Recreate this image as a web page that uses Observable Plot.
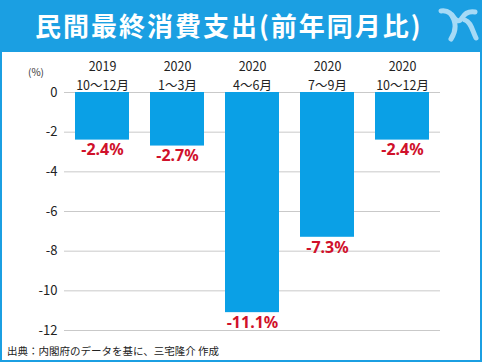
<!DOCTYPE html>
<html><head><meta charset="utf-8">
<script src="https://cdn.jsdelivr.net/npm/d3@7"></script>
<script src="https://cdn.jsdelivr.net/npm/@observablehq/plot@0.6"></script>
<style>
body{margin:0;background:#fff;}
#c{position:relative;width:482px;height:362px;overflow:hidden;font-family:"Noto Sans CJK JP","Noto Sans",sans-serif;background:#fff;}
#hdr{position:absolute;left:0;top:0;width:482px;height:52px;background:#1b9fe2;}
#title{position:absolute;left:35px;top:12px;color:#fff;font-weight:bold;font-size:26px;letter-spacing:2px;line-height:1;white-space:nowrap;}
#logo{position:absolute;left:438px;top:6px;}
#chart{position:absolute;left:0;top:52px;}
#unit{position:absolute;left:28px;top:67px;font-size:10px;line-height:1;color:#333;}
#cap{position:absolute;left:7px;top:346px;font-size:10.5px;line-height:1;color:#222;white-space:nowrap;}
#frame{position:absolute;left:0;top:0;width:482px;height:362px;box-sizing:border-box;border:2px solid #1b9fe2;pointer-events:none;}
</style>
</head><body>
<div id="c">
  <div id="hdr"></div>
  <div id="title">民間最終消費支出(前年同月比)</div>
  <svg id="logo" width="42" height="36" viewBox="0 0 42 36">
    <path d="M3 5 C10 4 14 8 16 14 C18 20 17 27 13 33" fill="none" stroke="#a6daf6" stroke-width="5" stroke-linecap="round"/>
    <path d="M14 9 C18 15 21 17 24 12 C27 7 31 5 37 6" fill="none" stroke="#a6daf6" stroke-width="5" stroke-linecap="round"/>
    <path d="M27 14 C33 16 34 24 38 32" fill="none" stroke="#a6daf6" stroke-width="5" stroke-linecap="round"/>
  </svg>
  <div id="chart"></div>
  <div id="unit">(%)</div>
  <div id="cap">出典：内閣府のデータを基に、三宅隆介 作成</div>
  <div id="frame"></div>
</div>
<script>
const years = ["2019", "2020", "2020", "2020", "2020"];
const periods = ["10〜12月", "1〜3月", "4〜6月", "7〜9月", "10〜12月"];
const values = [-2.4, -2.7, -11.1, -7.3, -2.4];
const yTicks = [0, -2, -4, -6, -8, -10, -12];

const data = years.map((y, i) => ({key: i, year: y, period: periods[i], value: values[i]}));
const blue = "#0aa0e6";
const red = "#d0112b";

const chart = Plot.plot({
  width: 482,
  height: 288,
  marginTop: 40,
  marginBottom: 10,
  marginLeft: 64,
  marginRight: 42,
  style: {fontFamily: '"Noto Sans CJK JP","Noto Sans",sans-serif', background: "transparent"},
  x: {domain: data.map(d => d.key), paddingInner: 0.28, paddingOuter: 0.14, axis: null},
  y: {domain: [-12, 0], axis: null},
  marks: [
    Plot.gridY(yTicks, {stroke: "#c9c9c9", strokeOpacity: 1}),
    Plot.barY(data, {x: "key", y: "value", fill: blue}),
    Plot.axisY(yTicks, {tickSize: 0, tickPadding: 7, fontSize: 13, fill: "#222", label: null,
      tickFormat: d => d === 0 ? "0" : "-" + Math.abs(d)}),
    Plot.text(data, {x: "key", y: () => 0, text: d => d.year + "\n" + d.period,
      lineAnchor: "bottom", dy: -3, fontSize: 12.5, fill: "#222", lineHeight: 1.45}),
    Plot.text(data, {x: "key", y: "value", text: d => d.value.toFixed(1) + "%",
      lineAnchor: "top", dy: 4, fontSize: 16, fontWeight: "bold", fill: red,
      fontFamily: '"Noto Sans",sans-serif'})
  ]
});
document.getElementById("chart").appendChild(chart);
</script>
</body></html>
